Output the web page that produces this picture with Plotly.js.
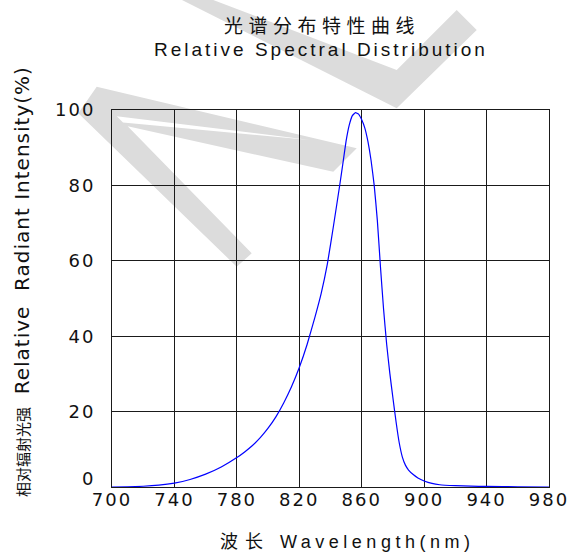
<!DOCTYPE html>
<html>
<head>
<meta charset="utf-8">
<script src="https://cdn.plot.ly/plotly-3.0.1.min.js"></script>
<style>
  html, body { margin: 0; padding: 0; background: #fff; }
  .xtick text, .ytick text { letter-spacing: 2px; }
</style>
</head>
<body>
<div id="chart" style="width:580px;height:554px;"></div>
<script>
// ---- data ----
const wavelength = [700,710,720,730,740,750,760,770,780,785,790,795,800,805,810,815,820,825,830,834,838,842,846,848,850,852,854,856,858,860,862,864,866,868,870,872,874,876,878,880,882,884,886,888,890,893,896,900,905,910,920,930,940,960,980];
const intensity  = [0,0.05,0.2,0.5,1.05,2.0,3.4,5.3,7.8,9.3,11.0,13.1,15.6,18.6,22.3,26.6,31.7,37.8,45.0,51.3,59.2,69.5,80.3,86.0,91.8,96.0,98.5,99.3,98.9,97.4,95.2,91.6,86.6,80.0,70.8,58.5,47.2,37.8,30.2,23.6,17.3,11.8,8.0,5.8,4.5,3.3,2.4,1.6,0.95,0.6,0.35,0.22,0.15,0.05,0];
const xTickVals = [700,740,780,820,860,900,940,980];
const yTickVals = [0,20,40,60,80,100];

// ---- decoration (watermark) outline in page pixels ----
const PL = 112, PR = 549, PT = 110, PB = 487;
const fx = x => (x - PL) / (PR - PL);
const fy = y => (PB - y) / (PB - PT);
const wmLeft = [[96.7,86.7],[356.7,148.3],[333.3,171.7],[127.7,126.3],[251.7,253.3],[236.7,266.7],[78.3,113.3]];
const wmSliver = [[116.7,116.2],[310,140],[123,122.5]];
const wmV = [[178,-2],[208,-2],[396.7,70],[456.7,10],[476.7,30],[396.7,108.3]];
const toPath = pts => 'M' + pts.map(p => fx(p[0]).toFixed(4) + ',' + fy(p[1]).toFixed(4)).join(' L') + ' Z';

const trace = {
  x: wavelength, y: intensity, type: 'scatter', mode: 'lines',
  line: {color: '#0000ff', width: 1.2, shape: 'spline', smoothing: 0.4},
  hoverinfo: 'skip'
};

const axisCommon = {
  showgrid: true, gridcolor: '#1a1a1a', gridwidth: 1,
  showline: true, linecolor: '#1a1a1a', linewidth: 1, mirror: true,
  zeroline: false, ticks: '', tickmode: 'array',
  tickfont: {family: 'DejaVu Sans', size: 18, color: '#111'}
};

const layout = {
  width: 580, height: 554,
  margin: {l: PL, r: 580 - PR, t: PT, b: 554 - PB, pad: 0},
  paper_bgcolor: '#ffffff', plot_bgcolor: 'rgba(0,0,0,0)',
  showlegend: false,
  xaxis: Object.assign({}, axisCommon, {range: [700, 980], tickvals: xTickVals, ticktext: xTickVals.map(String), ticklabelstandoff: -4}),
  yaxis: Object.assign({}, axisCommon, {range: [0, 100], tickvals: yTickVals, ticktext: yTickVals.map(String), ticklabelstandoff: 12}),
  shapes: [
    {type: 'path', xref: 'paper', yref: 'paper', layer: 'below', path: toPath(wmLeft), fillcolor: '#dcdcdc', line: {width: 0}},
    {type: 'path', xref: 'paper', yref: 'paper', layer: 'below', path: toPath(wmSliver), fillcolor: '#ffffff', line: {width: 0}},
    {type: 'path', xref: 'paper', yref: 'paper', layer: 'below', path: toPath(wmV), fillcolor: '#dcdcdc', line: {width: 0}}
  ],
  annotations: [
    {text: '<span style="letter-spacing:5.5px">光谱分布特性曲线</span>', xref: 'paper', yref: 'paper', x: fx(322), y: fy(24),
     xanchor: 'center', yanchor: 'middle', showarrow: false,
     font: {family: 'Noto Sans CJK SC', size: 19, color: '#111'}},
    {text: '<span style="letter-spacing:3px">Relative Spectral Distribution</span>', xref: 'paper', yref: 'paper', x: fx(321), y: fy(49),
     xanchor: 'center', yanchor: 'middle', showarrow: false,
     font: {family: 'Liberation Sans', size: 19, color: '#111'}},
    {text: '<span style="letter-spacing:7px">波长</span>  <span style="letter-spacing:4.5px">Wavelength(nm)</span>', xref: 'paper', yref: 'paper', x: fx(347), y: fy(542),
     xanchor: 'center', yanchor: 'middle', showarrow: false,
     font: {family: 'Liberation Sans, Noto Sans CJK SC', size: 18, color: '#111'}},
    {text: '<span style="font-size:15px;letter-spacing:0px">相对辐射光强</span>  <span style="letter-spacing:1px">Relative  Radiant Intensity(%)</span>', xref: 'paper', yref: 'paper', x: fx(22), y: fy(282),
     xanchor: 'center', yanchor: 'middle', showarrow: false, textangle: -90,
     font: {family: 'DejaVu Sans, Noto Sans CJK SC', size: 20, color: '#111'}}
  ]
};

Plotly.newPlot('chart', [trace], layout, {displayModeBar: false, staticPlot: true}).then(function (gd) {
  // the reference lifts the "0" label above the bottom gridline
  gd.querySelectorAll('.ytick text').forEach(function (t) {
    if (t.textContent.trim() === '0') {
      const y0 = parseFloat(t.getAttribute('y') || '0');
      t.setAttribute('y', (y0 - 8).toFixed(2));
    }
  });
});
</script>
</body>
</html>
